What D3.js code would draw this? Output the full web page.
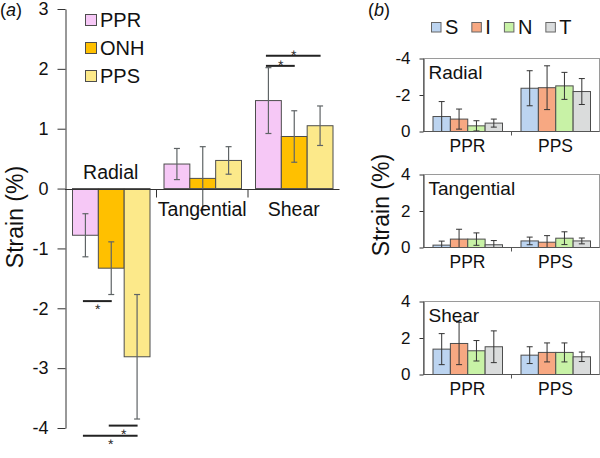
<!DOCTYPE html>
<html>
<head>
<meta charset="utf-8">
<script src="https://cdn.jsdelivr.net/npm/d3@7"></script>
<style>
  html, body { margin: 0; padding: 0; background: #fff; }
  svg { display: block; font-family: "Liberation Sans", Arial, sans-serif; }
</style>
</head>
<body>
<svg id="chart" width="600" height="458"></svg>
<script>
// ---------- Panel (a) data ----------
const strainTypesA = ["Radial", "Tangential", "Shear"];
const regionsA = ["PPR", "ONH", "PPS"];
const pprMean = [-0.78, 0.41, 1.47];
const onhMean = [-1.33, 0.17, 0.87];
const ppsMean = [-2.81, 0.47, 1.05];
const pprSD = [0.36, 0.26, 0.55];
const onhSD = [0.44, 0.53, 0.43];
const ppsSD = [1.04, 0.23, 0.33];
const ticksA = [-4, -3, -2, -1, 0, 1, 2, 3];
// significance brackets (panel a)
const sigStrain = ["Shear", "Shear", "Radial", "Radial", "Radial"];
const sigFrom = ["PPR", "PPR", "PPR", "ONH", "PPR"];
const sigTo = ["PPS", "ONH", "ONH", "PPS", "PPS"];
const sigLevel = [2.22, 2.05, -1.88, -3.96, -4.13];
const sigStarSide = ["above", "above", "below", "below", "below"];

// ---------- Panel (b) data ----------
const quadrants = ["S", "I", "N", "T"];
const groupsB = ["PPR", "PPS"];
const strainTypesB = ["Radial", "Tangential", "Shear"];
// order: PPR S,I,N,T then PPS S,I,N,T
const radialMeanB = [-0.82, -0.68, -0.31, -0.46, -2.37, -2.40, -2.50, -2.19];
const radialSDB = [0.82, 0.55, 0.28, 0.22, 0.96, 1.20, 0.74, 0.71];
const tangMeanB = [0.13, 0.46, 0.46, 0.15, 0.36, 0.29, 0.51, 0.36];
const tangSDB = [0.22, 0.54, 0.34, 0.23, 0.21, 0.36, 0.35, 0.16];
const shearMeanB = [1.39, 1.70, 1.30, 1.52, 1.06, 1.21, 1.21, 0.97];
const shearSDB = [0.85, 1.16, 0.56, 0.87, 0.46, 0.52, 0.52, 0.26];
const ticksRadialB = [-4, -2, 0];
const ticksOtherB = [0, 2, 4];

// ---------- styles ----------
const colorsA = { PPR: "#F6C8F6", ONH: "#FFC000", PPS: "#FCE98A" };
const colorsB = { S: "#BCD4F0", I: "#F7A882", N: "#C8F2A6", T: "#DADCDC" };
const barStroke = "#4d4d4d";
const errColor = "#5f6466";
const axisColor = "#333";

const svg = d3.select("#chart");
svg.append("rect").attr("width", 600).attr("height", 458).attr("fill", "#fff");

// =============== PANEL A ===============
const A = { left: 65, right: 339.5, top: 9, bottom: 428 };
const yA = d3.scaleLinear().domain([-4, 3]).range([A.bottom, A.top]);
const x0A = d3.scaleBand().domain(strainTypesA).range([A.left, A.right]).padding(0);
const x1A = d3.scaleBand().domain(regionsA).range([7, x0A.bandwidth() - 7]).padding(0);

const meansA = { PPR: pprMean, ONH: onhMean, PPS: ppsMean };
const sdsA = { PPR: pprSD, ONH: onhSD, PPS: ppsSD };
const rowsA = [];
strainTypesA.forEach((s, i) => regionsA.forEach(r => rowsA.push({ s, r, v: meansA[r][i], e: sdsA[r][i] })));

const gA = svg.append("g");

// bars
gA.selectAll("rect.bar").data(rowsA).enter().append("rect")
  .attr("class", "bar")
  .attr("x", d => x0A(d.s) + x1A(d.r) + 0.5)
  .attr("width", x1A.bandwidth())
  .attr("y", d => Math.min(yA(d.v), yA(0)))
  .attr("height", d => Math.abs(yA(d.v) - yA(0)))
  .attr("fill", d => colorsA[d.r])
  .attr("stroke", barStroke).attr("stroke-width", 1);

// error bars
const cxA = d => x0A(d.s) + x1A(d.r) + x1A.bandwidth() / 2 + 0.5;
const eA = gA.selectAll("g.err").data(rowsA).enter().append("g").attr("class", "err")
  .attr("stroke", errColor).attr("stroke-width", 1.2);
eA.append("line").attr("x1", cxA).attr("x2", cxA)
  .attr("y1", d => yA(d.v + d.e)).attr("y2", d => yA(d.v - d.e));
eA.append("line").attr("x1", d => cxA(d) - 3).attr("x2", d => cxA(d) + 3)
  .attr("y1", d => yA(d.v + d.e)).attr("y2", d => yA(d.v + d.e));
eA.append("line").attr("x1", d => cxA(d) - 3).attr("x2", d => cxA(d) + 3)
  .attr("y1", d => yA(d.v - d.e)).attr("y2", d => yA(d.v - d.e));

// y axis
const axA = gA.append("g").attr("transform", `translate(${A.left + 0.5},0)`)
  .call(d3.axisLeft(yA).tickValues(ticksA).tickFormat(d => String(d)).tickSize(8).tickPadding(9).tickSizeOuter(0));
axA.select(".domain").attr("stroke", axisColor);
axA.selectAll(".tick line").attr("stroke", axisColor);
axA.selectAll(".tick text").attr("font-size", 18).attr("fill", "#111")
  .attr("font-family", "'Liberation Sans', Arial, sans-serif");

// x axis at zero
const zA = Math.round(yA(0)) + 0.5;
gA.append("line").attr("x1", A.left).attr("x2", A.right).attr("y1", zA).attr("y2", zA)
  .attr("stroke", axisColor).attr("stroke-width", 1);
gA.selectAll("line.xtick").data(strainTypesA.slice(1)).enter().append("line")
  .attr("x1", d => x0A(d)).attr("x2", d => x0A(d)).attr("y1", zA).attr("y2", zA + 8)
  .attr("stroke", axisColor);

// category labels
gA.selectAll("text.cat").data(strainTypesA).enter().append("text")
  .attr("x", d => x0A(d) + x0A.bandwidth() / 2)
  .attr("y", (d, i) => meansA.PPR[i] < 0 ? zA - 11 : zA + 26)
  .attr("text-anchor", "middle").attr("font-size", 19.5).attr("fill", "#111")
  .text(d => d);

// y title
gA.append("text").attr("transform", "translate(23,217) rotate(-90)")
  .attr("text-anchor", "middle").attr("font-size", 23).attr("fill", "#111")
  .text("Strain (%)");

// panel label
const la = gA.append("text").attr("x", 0).attr("y", 16).attr("font-size", 18).attr("fill", "#111");
la.append("tspan").text("(");
la.append("tspan").attr("font-style", "italic").text("a");
la.append("tspan").text(")");

// legend a
const legA = gA.selectAll("g.lega").data(regionsA).enter().append("g")
  .attr("transform", (d, i) => `translate(85,${14 + i * 28})`);
legA.append("rect").attr("x", 0.5).attr("y", 0.5).attr("width", 11).attr("height", 11)
  .attr("fill", d => colorsA[d]).attr("stroke", barStroke);
legA.append("text").attr("x", 15).attr("y", 13).attr("font-size", 20).attr("fill", "#111").text(d => d);

// significance
const sigs = sigStrain.map((s, i) => ({ s, from: sigFrom[i], to: sigTo[i], v: sigLevel[i], side: sigStarSide[i] }));
const ctr = (s, r) => x0A(s) + x1A(r) + x1A.bandwidth() / 2;
const sg = gA.selectAll("g.sig").data(sigs).enter().append("g");
sg.append("line")
  .attr("x1", d => ctr(d.s, d.from) - 2).attr("x2", d => ctr(d.s, d.to) + 1)
  .attr("y1", d => yA(d.v)).attr("y2", d => yA(d.v))
  .attr("stroke", "#222").attr("stroke-width", 2);
sg.append("text")
  .attr("x", d => (ctr(d.s, d.from) + ctr(d.s, d.to)) / 2)
  .attr("y", d => d.side === "above" ? yA(d.v) + 4 : yA(d.v) + 13)
  .attr("text-anchor", "middle").attr("font-size", 14).attr("fill", "#222")
  .style("text-rendering", "geometricPrecision").text("*");

// =============== PANEL B ===============
const B = { left: 423.5, right: 599.5 };
const panelsB = [
  { name: "Radial", mean: radialMeanB, sd: radialSDB, ticks: ticksRadialB, dir: -1, top: 58.5, bottom: 131.5 },
  { name: "Tangential", mean: tangMeanB, sd: tangSDB, ticks: ticksOtherB, dir: 1, top: 174.5, bottom: 247.5 },
  { name: "Shear", mean: shearMeanB, sd: shearSDB, ticks: ticksOtherB, dir: 1, top: 301.5, bottom: 374.5 }
];
const x0B = d3.scaleBand().domain(groupsB).range([B.left, B.right]).padding(0);
const x1B = d3.scaleBand().domain(quadrants).range([9.5, x0B.bandwidth() - 9]).padding(0);

panelsB.forEach(p => {
  const y = d3.scaleLinear().domain([0, p.dir * 4]).range([p.bottom, p.top]);
  const g = svg.append("g");
  const rows = [];
  groupsB.forEach((gr, gi) => quadrants.forEach((q, qi) => {
    rows.push({ g: gr, q, v: p.mean[gi * 4 + qi], e: p.sd[gi * 4 + qi] });
  }));
  // frame
  g.append("rect").attr("x", B.left).attr("y", p.top).attr("width", B.right - B.left).attr("height", p.bottom - p.top)
    .attr("fill", "none").attr("stroke", "#9a9a9a").attr("stroke-width", 1);
  // bars
  g.selectAll("rect.bar").data(rows).enter().append("rect")
    .attr("x", d => x0B(d.g) + x1B(d.q))
    .attr("width", x1B.bandwidth())
    .attr("y", d => Math.min(y(d.v), y(0)))
    .attr("height", d => Math.abs(y(d.v) - y(0)))
    .attr("fill", d => colorsB[d.q]).attr("stroke", barStroke).attr("stroke-width", 1);
  // error bars
  const cx = d => x0B(d.g) + x1B(d.q) + x1B.bandwidth() / 2;
  const clampV = v => p.dir > 0 ? Math.max(v, 0) : Math.min(v, 0);
  const eg = g.selectAll("g.err").data(rows).enter().append("g").attr("stroke", "#333").attr("stroke-width", 1);
  eg.append("line").attr("x1", cx).attr("x2", cx)
    .attr("y1", d => y(d.v + p.dir * d.e)).attr("y2", d => y(clampV(d.v - p.dir * d.e)));
  eg.append("line").attr("x1", d => cx(d) - 3).attr("x2", d => cx(d) + 3)
    .attr("y1", d => y(d.v + p.dir * d.e)).attr("y2", d => y(d.v + p.dir * d.e));
  eg.filter(d => Math.abs(d.v) - d.e > 0.02).append("line").attr("x1", d => cx(d) - 3).attr("x2", d => cx(d) + 3)
    .attr("y1", d => y(d.v - p.dir * d.e)).attr("y2", d => y(d.v - p.dir * d.e));
  // left axis
  const ax = g.append("g").attr("transform", `translate(${B.left},0)`)
    .call(d3.axisLeft(y).tickValues(p.ticks).tickFormat(d => String(d)).tickSize(4).tickPadding(9).tickSizeOuter(0));
  ax.select(".domain").attr("stroke", axisColor);
  ax.selectAll(".tick line").attr("stroke", axisColor);
  ax.selectAll(".tick text").attr("font-size", 17).attr("fill", "#111")
    .attr("font-family", "'Liberation Sans', Arial, sans-serif");
  // bottom axis
  g.append("line").attr("x1", B.left).attr("x2", B.right).attr("y1", p.bottom).attr("y2", p.bottom)
    .attr("stroke", "#555");
  g.selectAll("line.bt").data(groupsB.slice(1)).enter().append("line")
    .attr("x1", d => x0B(d)).attr("x2", d => x0B(d)).attr("y1", p.bottom).attr("y2", p.bottom + 4)
    .attr("stroke", "#555");
  // group labels
  g.selectAll("text.grp").data(groupsB).enter().append("text")
    .attr("x", d => x0B(d) + x0B.bandwidth() / 2).attr("y", p.bottom + 20)
    .attr("text-anchor", "middle").attr("font-size", 17.5).attr("fill", "#111").text(d => d);
  // panel title
  g.append("text").attr("x", B.left + 5).attr("y", p.top + 20.5)
    .attr("font-size", 19).attr("fill", "#111").text(p.name);
});

// y title b
svg.append("text").attr("transform", "translate(389,205) rotate(-90)")
  .attr("text-anchor", "middle").attr("font-size", 23).attr("fill", "#111").text("Strain (%)");

// panel label b
const lb = svg.append("text").attr("x", 368).attr("y", 16).attr("font-size", 18).attr("fill", "#111");
lb.append("tspan").text("(");
lb.append("tspan").attr("font-style", "italic").text("b");
lb.append("tspan").text(")");

// legend b
let lx = 431;
quadrants.forEach(q => {
  const g = svg.append("g").attr("transform", `translate(${lx},22)`);
  g.append("rect").attr("x", 0.5).attr("y", 0.5).attr("width", 9.5).attr("height", 9.5)
    .attr("fill", colorsB[q]).attr("stroke", "#666");
  const t = g.append("text").attr("x", 14).attr("y", 11.8).attr("font-size", 20).attr("fill", "#111").text(q);
  lx += 14 + t.node().getComputedTextLength() + 13;
});
</script>
</body>
</html>
